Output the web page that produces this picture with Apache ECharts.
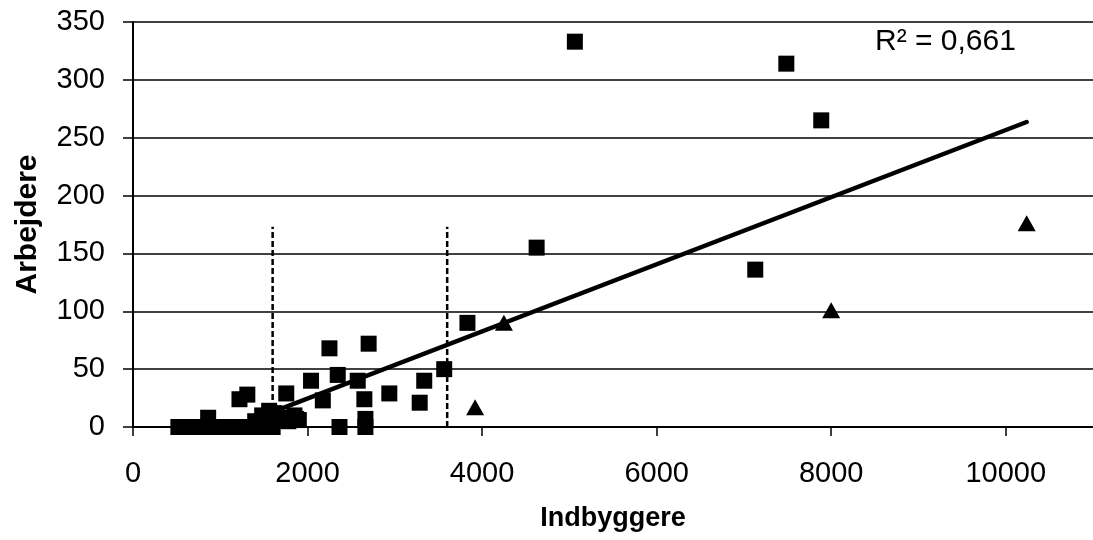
<!DOCTYPE html>
<html>
<head>
<meta charset="utf-8">
<script src="https://cdn.jsdelivr.net/npm/echarts@6/dist/echarts.min.js"></script>
<style>
html,body{margin:0;padding:0;background:#fff;}
#chart{width:1093px;height:540px;}
</style>
</head>
<body>
<div id="chart"></div>
<script>
// ---- data ----
const squareX = [5063, 7486, 7886, 7130, 4625, 3832,
  3566, 3337, 3285, 2937, 2651, 2663, 2663, 2366, 2575, 2251, 2700, 2040, 2346, 2175, 1870, 1756,
  1220, 1310, 861,
  520, 570, 620, 680, 740, 800, 900, 960, 1020, 1080, 1140, 1200, 1260, 1320, 1380, 1440, 1520, 1600,
  1400, 1480, 1560, 1620, 1700, 1780, 1850, 1900];
const squareY = [333, 314, 265, 136, 155, 90,
  50, 40, 21, 29, 24, 7, 0, 0, 40, 68, 72, 40, 45, 23, 7, 29,
  24, 28, 8,
  0, 0, 0, 0, 0, 0, 0, 0, 0, 0, 0, 0, 0, 0, 0, 0, 0, 0,
  5, 10, 14, 12, 8, 5, 10, 6];
const triangleX = [3920, 4250, 8000, 10240];
const triangleY = [17, 90, 101, 176];
const trendSlope = 0.0290;
const trendIntercept = -33.4;
const dashedX = [1600, 3600];
const dashedTop = 173;
const rSquaredText = 'R² = 0,661';
const xTitle = 'Indbyggere';
const yTitle = 'Arbejdere';

// ---- build ----
const squares = squareX.map((x, i) => [x, squareY[i]]);
const triangles = triangleX.map((x, i) => [x, triangleY[i]]);
const allX = squareX.concat(triangleX);
const xMin = Math.min(...allX), xMax = Math.max(...allX);
const trend = [[xMin, trendSlope * xMin + trendIntercept], [xMax, trendSlope * xMax + trendIntercept]];

const FONT = 'Liberation Sans, Arial, sans-serif';
const chart = echarts.init(document.getElementById('chart'), null, {renderer: 'canvas'});
const series = [
  {
    type: 'line', data: trend, symbol: 'none', silent: true, clip: true, z: 3,
    lineStyle: {color: '#000', width: 4.5, cap: 'round'}
  },
  {
    type: 'scatter', data: squares, symbol: 'rect', symbolSize: 16, z: 4,
    itemStyle: {color: '#000', opacity: 1}
  },
  {
    type: 'scatter', data: triangles, symbol: 'triangle', symbolSize: [18, 16], z: 4,
    itemStyle: {color: '#000', opacity: 1}
  }
];
dashedX.forEach(x => {
  series.push({
    type: 'line', data: [[x, 0], [x, dashedTop]], symbol: 'none', silent: true, z: 2,
    lineStyle: {color: '#000', width: 2.5, type: [6, 3]}
  });
});

chart.setOption({
  animation: false,
  backgroundColor: '#fff',
  grid: {left: 133, top: 22, width: 962, height: 405, containLabel: false},
  xAxis: {
    type: 'value', min: 0, max: 11000, interval: 2000,
    name: xTitle, nameLocation: 'middle', nameGap: 78,
    nameTextStyle: {fontFamily: FONT, fontSize: 27, fontWeight: 'bold', color: '#000'},
    axisLine: {show: true, onZero: false, lineStyle: {color: '#000', width: 2}},
    axisTick: {show: true, inside: false, length: 9, lineStyle: {color: '#000', width: 1.5}},
    axisLabel: {fontFamily: FONT, fontSize: 29, color: '#000', margin: 32, showMaxLabel: false,
      formatter: v => String(v)},
    splitLine: {show: false}
  },
  yAxis: {
    type: 'value', min: 0, max: 350, interval: 50,
    name: yTitle, nameLocation: 'middle', nameGap: 90, nameRotate: 90,
    nameTextStyle: {fontFamily: FONT, fontSize: 30, fontWeight: 'bold', color: '#000'},
    axisLine: {show: true, lineStyle: {color: '#000', width: 2}},
    axisTick: {show: true, inside: false, length: 10, lineStyle: {color: '#000', width: 1.5}},
    axisLabel: {fontFamily: FONT, fontSize: 29, color: '#000', margin: 28},
    splitLine: {show: true, lineStyle: {color: '#000', width: 1.5}}
  },
  graphic: [{
    type: 'text', left: 875, top: 27,
    style: {text: rSquaredText, fontFamily: FONT, fontSize: 30, fill: '#000'}
  }],
  series: series
});
</script>
</body>
</html>
